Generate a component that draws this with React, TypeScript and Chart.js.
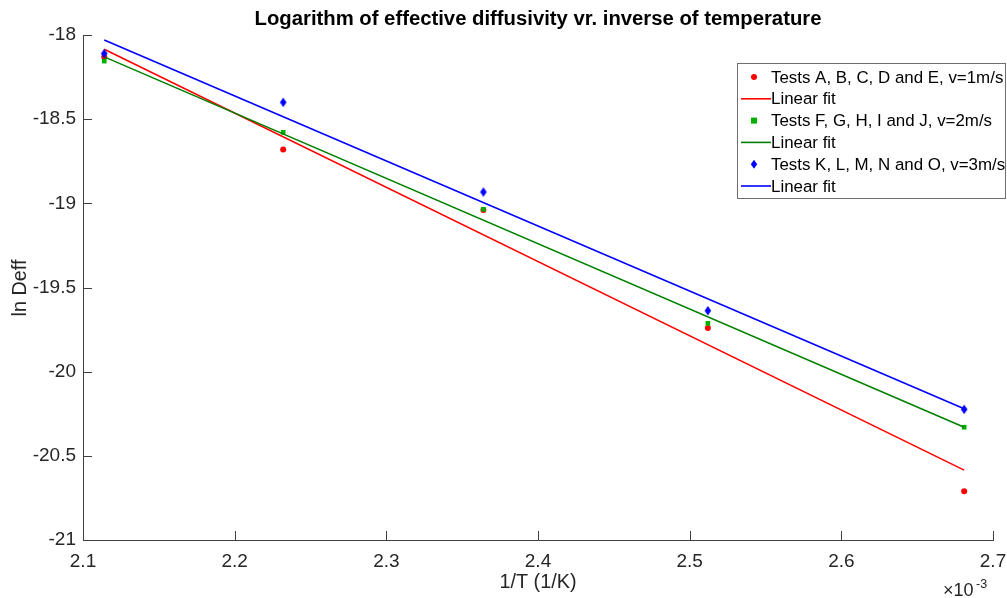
import React, { useEffect, useRef } from "react";
import { Chart, registerables } from "chart.js";
Chart.register(...registerables);

const invT = [2.114, 2.232, 2.364, 2.512, 2.681];
const lnD1 = [-18.13, -18.68, -19.04, -19.74, -20.71];
const lnD2 = [-18.155, -18.578, -19.035, -19.713, -20.33];
const lnD3 = [-18.11, -18.4, -18.933, -19.638, -20.224];
const fitX = [2.114, 2.681];
const fit1 = [-18.085, -20.585];
const fit2 = [-18.13, -20.33];
const fit3 = [-18.03, -20.22];
const xTicks = [2.1, 2.2, 2.3, 2.4, 2.5, 2.6, 2.7];
const yTicks = [-21, -20.5, -20, -19.5, -19, -18.5, -18];
const legendLabels = [
  "Tests A, B, C, D and E, v=1m/s",
  "Linear fit",
  "Tests F, G, H, I and J, v=2m/s",
  "Linear fit",
  "Tests K, L, M, N and O, v=3m/s",
  "Linear fit",
];
const titleText = "Logarithm of effective diffusivity vr. inverse of temperature";
const xLabel = "1/T (1/K)";
const yLabel = "ln Deff";

const RED = "#ff0000";
const GREEN_PT = "#00b000";
const GREEN = "#008000";
const BLUE = "#0000ff";
const FONT = "'Liberation Sans', Arial, Helvetica, sans-serif";
const TXT = "#262626";

const pts = (xs: number[], ys: number[]) => xs.map((x, i) => ({ x, y: ys[i] }));

const legendStyles = [
  { kind: "pt", color: RED, style: "circle" },
  { kind: "ln", color: RED },
  { kind: "pt", color: GREEN_PT, style: "rect" },
  { kind: "ln", color: GREEN },
  { kind: "pt", color: BLUE, style: "diamond" },
  { kind: "ln", color: BLUE },
];

function drawMarker(ctx: CanvasRenderingContext2D, style: string, x: number, y: number, color: string) {
  ctx.save();
  ctx.fillStyle = color;
  ctx.beginPath();
  if (style === "circle") {
    ctx.arc(x, y, 3, 0, Math.PI * 2);
  } else if (style === "rect") {
    ctx.rect(x - 3, y - 3, 6, 6);
  } else {
    ctx.moveTo(x, y - 4.5);
    ctx.lineTo(x + 3.2, y);
    ctx.lineTo(x, y + 4.5);
    ctx.lineTo(x - 3.2, y);
    ctx.closePath();
  }
  ctx.fill();
  ctx.restore();
}

const decorPlugin = {
  id: "decor",
  afterDraw(chart: any) {
    const ctx: CanvasRenderingContext2D = chart.ctx;
    const { left, right, top, bottom } = chart.chartArea;
    const xs = chart.scales.x;
    const ys = chart.scales.y;
    ctx.save();
    // inward ticks
    ctx.strokeStyle = "#404040";
    ctx.lineWidth = 1;
    ctx.beginPath();
    xTicks.forEach((v) => {
      const px = Math.round(xs.getPixelForValue(v)) + 0.5;
      ctx.moveTo(px, bottom);
      ctx.lineTo(px, bottom - 9);
    });
    yTicks.forEach((v) => {
      const py = Math.round(ys.getPixelForValue(v)) + 0.5;
      ctx.moveTo(left, py);
      ctx.lineTo(left + 9, py);
    });
    ctx.stroke();

    // title
    ctx.fillStyle = "#000";
    ctx.font = `bold 20.3px ${FONT}`;
    ctx.textAlign = "center";
    ctx.textBaseline = "middle";
    ctx.fillText(titleText, 538, 19);

    // axis labels
    ctx.fillStyle = TXT;
    ctx.font = `19.8px ${FONT}`;
    ctx.fillText(xLabel, 538, 583);
    ctx.save();
    ctx.translate(21, 288);
    ctx.rotate(-Math.PI / 2);
    ctx.fillText(yLabel, 0, 0);
    ctx.restore();

    // exponent
    ctx.textAlign = "left";
    ctx.textBaseline = "alphabetic";
    ctx.font = `18px ${FONT}`;
    ctx.fillText("\u00d710", 943, 596);
    ctx.font = `12.5px ${FONT}`;
    ctx.fillText("-3", 976, 588);

    // legend
    const lx0 = 737.5, ly0 = 63.5, lx1 = 1005.5, ly1 = 198.5;
    ctx.fillStyle = "#fff";
    ctx.fillRect(lx0, ly0, lx1 - lx0, ly1 - ly0);
    ctx.strokeStyle = "#6e6e6e";
    ctx.lineWidth = 1;
    ctx.strokeRect(lx0, ly0, lx1 - lx0, ly1 - ly0);
    ctx.font = `16.9px ${FONT}`;
    ctx.textBaseline = "middle";
    ctx.textAlign = "left";
    legendLabels.forEach((lab, i) => {
      const yy = 77 + i * 21.8;
      const st = legendStyles[i];
      if (st.kind === "pt") {
        drawMarker(ctx, st.style as string, 754, yy, st.color);
      } else {
        ctx.strokeStyle = st.color;
        ctx.lineWidth = 1.6;
        ctx.beginPath();
        ctx.moveTo(741, yy);
        ctx.lineTo(771, yy);
        ctx.stroke();
      }
      ctx.fillStyle = "#000";
      ctx.fillText(lab, 771, yy + 1);
    });
    ctx.restore();
  },
};

const diamond = (() => {
  if (typeof document === "undefined") return "rectRot";
  const c = document.createElement("canvas");
  c.width = 8;
  c.height = 11;
  const g = c.getContext("2d")!;
  g.fillStyle = BLUE;
  g.beginPath();
  g.moveTo(4, 0.8);
  g.lineTo(7.3, 5.5);
  g.lineTo(4, 10.2);
  g.lineTo(0.7, 5.5);
  g.closePath();
  g.fill();
  return c;
})();

export default function App() {
  const ref = useRef<HTMLCanvasElement>(null);
  useEffect(() => {
    if (!ref.current) return;
    const chart = new Chart(ref.current, {
      type: "scatter",
      data: {
        datasets: [
          {
            label: legendLabels[0],
            data: pts(invT, lnD1),
            pointStyle: "circle",
            pointRadius: 3,
            backgroundColor: RED,
            borderColor: RED,
            borderWidth: 0,
            order: 6,
          },
          {
            label: legendLabels[1],
            data: pts(fitX, fit1),
            showLine: true,
            pointRadius: 0,
            borderColor: RED,
            borderWidth: 1.6,
            order: 5,
          },
          {
            label: legendLabels[2],
            data: pts(invT, lnD2),
            pointStyle: "rect",
            pointRadius: 3.3,
            backgroundColor: GREEN_PT,
            borderColor: GREEN_PT,
            borderWidth: 0,
            order: 4,
          },
          {
            label: legendLabels[3],
            data: pts(fitX, fit2),
            showLine: true,
            pointRadius: 0,
            borderColor: GREEN,
            borderWidth: 1.6,
            order: 3,
          },
          {
            label: legendLabels[4],
            data: pts(invT, lnD3),
            pointStyle: diamond as any,
            pointRadius: 4,
            backgroundColor: BLUE,
            borderColor: BLUE,
            borderWidth: 0,
            order: 2,
          },
          {
            label: legendLabels[5],
            data: pts(fitX, fit3),
            showLine: true,
            pointRadius: 0,
            borderColor: BLUE,
            borderWidth: 1.6,
            order: 1,
          },
        ] as any,
      },
      options: {
        responsive: false,
        animation: false,
        layout: { padding: { top: 35, right: 0, left: 0, bottom: 0 } },
        plugins: {
          legend: { display: false },
          title: { display: false },
          tooltip: { enabled: false },
        },
        scales: {
          x: {
            type: "linear",
            min: 2.1,
            max: 2.7,
            afterBuildTicks: (s: any) => {
              s.ticks = xTicks.map((v) => ({ value: v }));
            },
            afterFit: (s: any) => {
              s.height = 58;
              s.paddingRight = 14;
            },
            ticks: {
              padding: 10,
              color: TXT,
              font: { family: FONT, size: 19 },
              callback: (v: any) => String(Math.round(Number(v) * 10) / 10),
              maxRotation: 0,
              autoSkip: false,
            },
            grid: { display: false, drawTicks: false },
            border: { display: true, color: "#404040", width: 1 },
          },
          y: {
            type: "linear",
            min: -21,
            max: -18,
            afterBuildTicks: (s: any) => {
              s.ticks = yTicks.map((v) => ({ value: v }));
            },
            afterFit: (s: any) => {
              s.width = 83;
            },
            ticks: {
              padding: 7,
              color: TXT,
              font: { family: FONT, size: 19 },
              callback: (v: any) => String(Math.round(Number(v) * 10) / 10),
              autoSkip: false,
            },
            grid: { display: false, drawTicks: false },
            border: { display: true, color: "#404040", width: 1 },
          },
        },
      } as any,
      plugins: [decorPlugin],
    });
    return () => chart.destroy();
  }, []);
  return (
    <div style={{ position: "absolute", left: 0, top: 0, width: 1007, height: 598, background: "#fff" }}>
      <canvas ref={ref} width={1007} height={598} style={{ display: "block" }} />
    </div>
  );
}
